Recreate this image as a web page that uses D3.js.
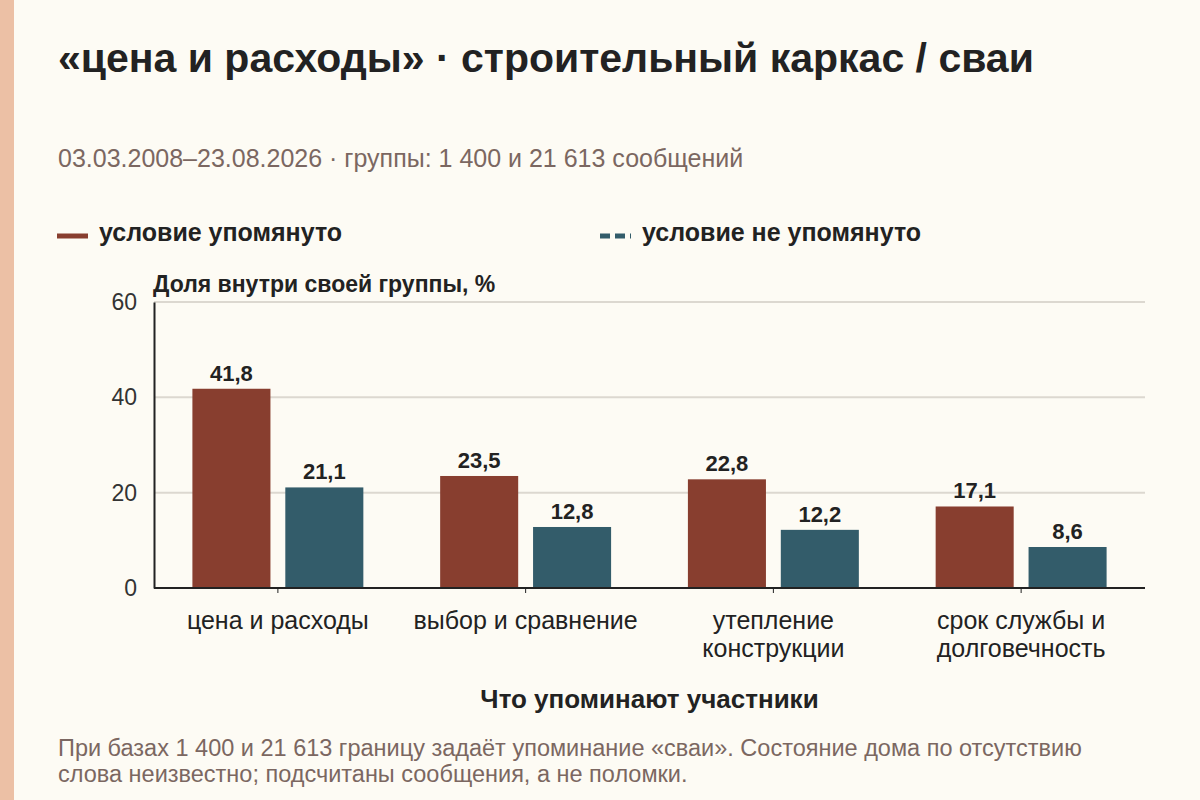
<!DOCTYPE html>
<html>
<head>
<meta charset="utf-8">
<script src="https://cdn.jsdelivr.net/npm/d3@7"></script>
<style>
  html, body { margin: 0; padding: 0; background: #fdfbf4; }
  svg { display: block; font-family: "Liberation Sans", Arial, sans-serif; }
</style>
</head>
<body>
<svg id="chart" width="1200" height="800"></svg>
<script>
var categories = [["цена и расходы"], ["выбор и сравнение"], ["утепление", "конструкции"], ["срок службы и", "долговечность"]];
var seriesNames = ["условие упомянуто", "условие не упомянуто"];
var mentioned = [41.8, 23.5, 22.8, 17.1];
var notMentioned = [21.1, 12.8, 12.2, 8.6];
var yTicks = [0, 20, 40, 60];

var colors = ["#883e2f", "#335c6a"];
var fmt = (v) => v.toFixed(1).replace(".", ",");

var svg = d3.select("#chart");
var W = 1200, H = 800,
    plotL = 154, plotR = 1145, plotT = 302, plotB = 588;

svg.append("rect").attr("width", W).attr("height", H).attr("fill", "#fdfbf4");
svg.append("rect").attr("width", 14).attr("height", H).attr("fill", "#ecc0a5");

//
// headings
svg.append("text").attr("x", 58).attr("y", 72)
  .attr("font-size", 41).attr("font-weight", "bold").attr("fill", "#222")
  .text("«цена и расходы» · строительный каркас / сваи");
svg.append("text").attr("x", 58).attr("y", 167)
  .attr("font-size", 25).attr("fill", "#7b6761")
  .text("03.03.2008–23.08.2026 · группы: 1 400 и 21 613 сообщений");

//
// legend
var legendX = [57, 600];
seriesNames.forEach((name, i) => {
  svg.append("line")
    .attr("x1", legendX[i]).attr("x2", legendX[i] + 31)
    .attr("y1", 236).attr("y2", 236)
    .attr("stroke", colors[i]).attr("stroke-width", 5)
    .attr("stroke-dasharray", i ? "10,5" : null);
  svg.append("text").attr("x", legendX[i] + 42).attr("y", 241)
    .attr("font-size", 25).attr("font-weight", "bold").attr("fill", "#222")
    .text(name);
});

//
// scales
var x0 = d3.scaleBand().domain(d3.range(categories.length))
  .range([plotL, plotR]).paddingInner(0.31).paddingOuter(0.155);
var x1 = d3.scaleBand().domain([0, 1])
  .range([0, x0.bandwidth()]).paddingInner(0.16);
var y = d3.scaleLinear().domain([0, 60]).range([plotB, plotT]);

// grid
svg.append("g").selectAll("line").data(yTicks.filter((t) => t > 0)).join("line")
  .attr("x1", plotL).attr("x2", plotR)
  .attr("y1", (d) => y(d)).attr("y2", (d) => y(d))
  .attr("stroke", "#dcd8d0").attr("stroke-width", 2);

// y axis
var yAxis = svg.append("g").attr("transform", `translate(${plotL},0)`)
  .call(d3.axisLeft(y).tickValues(yTicks).tickSize(0).tickPadding(17));
yAxis.select(".domain").attr("stroke", "#222").attr("stroke-width", 2);
yAxis.selectAll("text").attr("font-size", 23).attr("fill", "#333")
  .attr("font-family", "Liberation Sans, Arial, sans-serif");

svg.append("text").attr("x", 153).attr("y", 292)
  .attr("font-size", 23).attr("font-weight", "bold").attr("fill", "#222")
  .text("Доля внутри своей группы, %");

//
// bars
var rows = categories.map((c, i) => [mentioned[i], notMentioned[i]]);
var groups = svg.append("g").selectAll("g").data(rows).join("g")
  .attr("transform", (d, i) => `translate(${x0(i)},0)`);
groups.selectAll("rect").data((d) => d).join("rect")
  .attr("x", (d, j) => x1(j)).attr("width", x1.bandwidth())
  .attr("y", (d) => y(d)).attr("height", (d) => y(0) - y(d))
  .attr("fill", (d, j) => colors[j]);
groups.selectAll("text").data((d) => d).join("text")
  .attr("x", (d, j) => x1(j) + x1.bandwidth() / 2)
  .attr("y", (d) => y(d) - 8)
  .attr("text-anchor", "middle")
  .attr("font-size", 22).attr("font-weight", "bold").attr("fill", "#222")
  .text(fmt);

// x axis
var xAxis = svg.append("g").attr("transform", `translate(0,${plotB})`)
  .call(d3.axisBottom(x0).tickSize(5).tickFormat(""));
xAxis.select(".domain").attr("stroke", "#222").attr("stroke-width", 2)
  .attr("d", `M${plotL},0H${plotR}`);
xAxis.selectAll(".tick line").attr("stroke", "#222");

var labels = svg.append("g").selectAll("text").data(categories).join("text")
  .attr("x", (d, i) => x0(i) + x0.bandwidth() / 2)
  .attr("y", 629)
  .attr("text-anchor", "middle")
  .attr("font-size", 25).attr("fill", "#222");
labels.selectAll("tspan").data((d) => d).join("tspan")
  .attr("x", function() { return this.parentNode.getAttribute("x"); })
  .attr("dy", (d, i) => i ? 28 : 0)
  .text((d) => d);

svg.append("text").attr("x", (plotL + plotR) / 2).attr("y", 708)
  .attr("text-anchor", "middle")
  .attr("font-size", 26).attr("font-weight", "bold").attr("fill", "#222")
  .text("Что упоминают участники");

//
// footnote
var notes = ["При базах 1 400 и 21 613 границу задаёт упоминание «сваи». Состояние дома по отсутствию",
             "слова неизвестно; подсчитаны сообщения, а не поломки."];
svg.append("g").selectAll("text").data(notes).join("text")
  .attr("x", 58).attr("y", (d, i) => 756 + i * 26)
  .attr("font-size", 23.5).attr("fill", "#7b6761")
  .text((d) => d);
</script>
</body>
</html>
